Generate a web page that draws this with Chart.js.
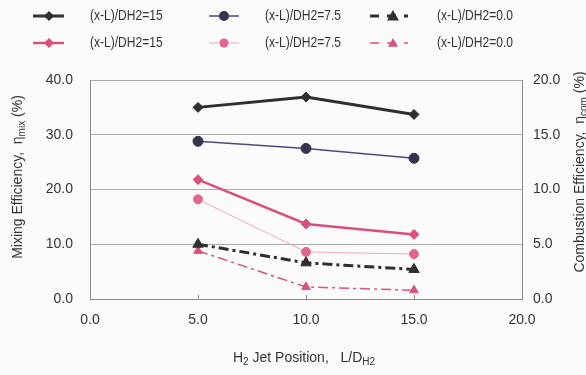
<!DOCTYPE html>
<html>
<head>
<meta charset="utf-8">
<script src="https://cdn.jsdelivr.net/npm/chart.js@4/dist/chart.umd.min.js"></script>
<style>
  html, body { margin: 0; padding: 0; background: #fbfbfb; }
  #wrap { width: 586px; height: 375px; }
</style>
</head>
<body>
<div id="wrap"><canvas id="c" width="586" height="375"></canvas></div>
<script>
// jet positions L/DH2
var positions = [5, 10, 15];

// mixing efficiency (left axis, %)
var mix15 = [35.0, 36.9, 33.7];
var mix75 = [28.8, 27.5, 25.7];
var mix00 = [10.0, 6.6, 5.4];

// combustion efficiency (right axis, %)
var com15 = [10.9, 6.85, 5.9];
var com75 = [9.1, 4.3, 4.1];
var com00 = [4.4, 1.1, 0.8];

var seriesLabels = ['(x-L)/DH2=15', '(x-L)/DH2=7.5', '(x-L)/DH2=0.0'];
var xTicks = [0, 5, 10, 15, 20];

var FONT = '"Liberation Sans", Arial, sans-serif';
var TXT = '#333333';

function pts(vals) {
  return positions.map(function (p, i) { return { x: p, y: vals[i] }; });
}

function mkSet(label, vals, axis, color, width, dash, style, radius, fill) {
  return {
    label: label,
    data: pts(vals),
    yAxisID: axis,
    borderColor: color,
    borderWidth: width,
    borderDash: dash,
    pointStyle: style,
    pointRadius: radius,
    pointBackgroundColor: fill,
    pointBorderColor: fill,
    pointBorderWidth: 1,
    fill: false,
    tension: 0
  };
}

var dashDot = [10, 4, 3, 4];

var datasets = [
  mkSet(seriesLabels[0], mix15, 'y', '#2f2f2f', 3, [], 'rectRot', 5, '#2f2f2f'),
  mkSet(seriesLabels[1], mix75, 'y', '#4a4a7c', 1.5, [], 'circle', 5, '#34344f'),
  mkSet(seriesLabels[2], mix00, 'y', '#2f2f2f', 3, dashDot, 'triangle', 6, '#2f2f2f'),
  mkSet(seriesLabels[0], com15, 'y2', '#d94f80', 2.5, [], 'rectRot', 5, '#d94f80'),
  mkSet(seriesLabels[1], com75, 'y2', '#eaa8bf', 1, [], 'circle', 4.5, '#e2648f'),
  mkSet(seriesLabels[2], com00, 'y2', '#d9527f', 1.5, dashDot, 'triangle', 5, '#d9527f')
];

// draws text runs with optional subscripts, centred on (0,0)
function richText(ctx, parts, size) {
  var w = 0;
  parts.forEach(function (p) {
    ctx.font = (p[1] ? size - 4 : size) + 'px ' + FONT;
    p.w = ctx.measureText(p[0]).width;
    w += p.w;
  });
  var x = -w / 2;
  ctx.textBaseline = 'middle';
  ctx.textAlign = 'left';
  parts.forEach(function (p) {
    ctx.font = (p[1] ? size - 4 : size) + 'px ' + FONT;
    ctx.fillText(p[0], x, p[1] ? 4 : 0);
    x += p.w;
  });
}

function marker(ctx, style, x, y, r, fill) {
  ctx.fillStyle = fill;
  ctx.beginPath();
  if (style === 'circle') {
    ctx.arc(x, y, r, 0, Math.PI * 2);
  } else if (style === 'rectRot') {
    ctx.moveTo(x, y - r); ctx.lineTo(x + r, y); ctx.lineTo(x, y + r); ctx.lineTo(x - r, y);
  } else {
    ctx.moveTo(x, y - r); ctx.lineTo(x + r, y + r * 0.75); ctx.lineTo(x - r, y + r * 0.75);
  }
  ctx.closePath();
  ctx.fill();
}

var decor = {
  id: 'decor',
  afterDraw: function (chart) {
    var ctx = chart.ctx;
    ctx.save();
    ctx.fillStyle = TXT;

    // legend, 3 columns x 2 rows
    var cols = [{ a: 33, b: 64, m: 49, t: 90 }, { a: 209, b: 239, m: 224, t: 265 }, { a: 370, b: 408, m: 393, t: 437 }];
    var rows = [16, 43];
    chart.data.datasets.forEach(function (ds, i) {
      var c = cols[i % 3], y = rows[Math.floor(i / 3)];
      ctx.strokeStyle = ds.borderColor;
      ctx.lineWidth = ds.borderWidth;
      ctx.setLineDash(ds.borderDash.length ? [9, 8] : []);
      ctx.beginPath(); ctx.moveTo(c.a, y); ctx.lineTo(c.b, y); ctx.stroke();
      ctx.setLineDash([]);
      marker(ctx, ds.pointStyle, c.m, y, ds.pointRadius, ds.pointBackgroundColor);
      // legend text in the original is a condensed face, squeeze it a bit
      ctx.save();
      ctx.translate(c.t, y);
      ctx.scale(0.86, 1);
      ctx.fillStyle = TXT;
      ctx.font = '14px ' + FONT;
      ctx.textAlign = 'left';
      ctx.textBaseline = 'middle';
      ctx.fillText(ds.label, 0, 0);
      ctx.restore();
    });

    // small x tick marks going up from the bottom axis
    var xs = chart.scales.x, area = chart.chartArea;
    ctx.strokeStyle = '#888';
    ctx.lineWidth = 1;
    [5, 10, 15].forEach(function (v) {
      var px = Math.round(xs.getPixelForValue(v)) + 0.5;
      ctx.beginPath(); ctx.moveTo(px, area.bottom); ctx.lineTo(px, area.bottom - 4); ctx.stroke();
    });

    // axis titles
    ctx.fillStyle = TXT;
    ctx.save();
    ctx.translate(304, 358);
    richText(ctx, [['H'], ['2', 1], [' Jet Position,   L/D'], ['H2', 1]], 14);
    ctx.restore();

    ctx.save();
    ctx.translate(18, 177);
    ctx.rotate(-Math.PI / 2);
    richText(ctx, [['Mixing Efficiency,  \u03b7'], ['mix', 1], [' (%)']], 14);
    ctx.restore();

    ctx.save();
    ctx.translate(580, 172);
    ctx.rotate(-Math.PI / 2);
    richText(ctx, [['Combustion Efficiency,  \u03b7'], ['com', 1], [' (%)']], 14);
    ctx.restore();

    ctx.restore();
  }
};

var tickFont = { family: FONT, size: 14 };

new Chart(document.getElementById('c'), {
  type: 'line',
  data: { datasets: datasets },
  options: {
    responsive: false,
    animation: false,
    layout: { padding: { top: 80, left: 0, right: 0, bottom: 0 } },
    plugins: { legend: { display: false }, tooltip: { enabled: false } },
    scales: {
      x: {
        type: 'linear',
        min: 0, max: 20,
        afterBuildTicks: function (s) { s.ticks = xTicks.map(function (v) { return { value: v }; }); },
        afterFit: function (s) { s.height = 76; },
        grid: { display: false, drawTicks: false },
        border: { display: true, color: '#8a8a8a', width: 1 },
        ticks: { font: tickFont, color: TXT, padding: 13, maxRotation: 0,
          callback: function (v) { return Number(v).toFixed(1); } }
      },
      y: {
        position: 'left',
        min: 0, max: 40,
        ticks: { stepSize: 10, font: tickFont, color: TXT, padding: 17,
          callback: function (v) { return Number(v).toFixed(1); } },
        afterFit: function (s) { s.width = 90; },
        grid: { color: '#ababab', lineWidth: 1, drawTicks: false },
        border: { display: true, color: '#8a8a8a', width: 1 }
      },
      y2: {
        position: 'right',
        min: 0, max: 20,
        ticks: { stepSize: 5, font: tickFont, color: TXT, padding: 11,
          callback: function (v) { return Number(v).toFixed(1); } },
        afterFit: function (s) { s.width = 64; },
        grid: { display: false, drawTicks: false },
        border: { display: true, color: '#8a8a8a', width: 1 }
      }
    }
  },
  plugins: [decor]
});
</script>
</body>
</html>
